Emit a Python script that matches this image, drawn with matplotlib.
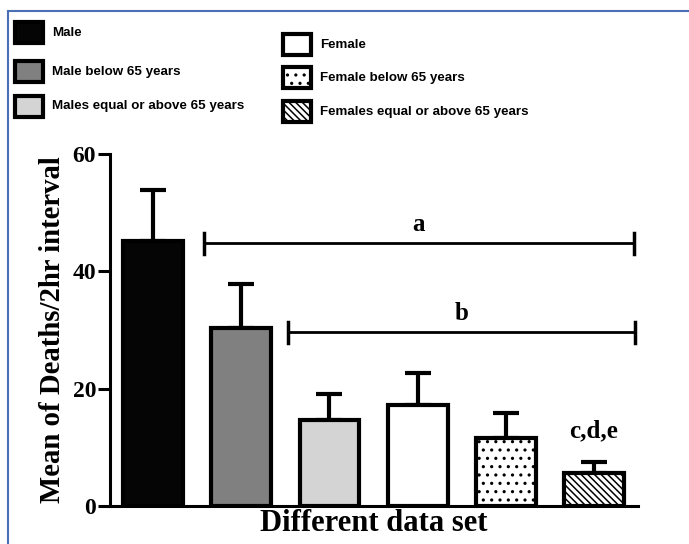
import matplotlib
matplotlib.use("Agg")
import matplotlib.pyplot as plt
from matplotlib.patches import Rectangle
from matplotlib.lines import Line2D

categories = ["Male", "Male below 65 years", "Males equal or above 65 years",
              "Female", "Female below 65 years", "Females equal or above 65 years"]
means = [45.1, 30.4, 14.7, 17.3, 11.6, 5.6]
errors = [8.7, 7.4, 4.4, 5.3, 4.3, 1.9]
colors = ["#050505", "#808080", "#d4d4d4", "#ffffff", "#ffffff", "#ffffff"]
hatches = [None, None, None, None, "..", "\\\\\\\\\\"]
yticks = [0, 20, 40, 60]

W, H = 689, 544
plt.rcParams['hatch.linewidth'] = 1.1
fig = plt.figure(figsize=(W / 100, H / 100), dpi=100)

def fx(px):
    return px / W

def fy(py):
    return 1 - py / H

ax = fig.add_axes([fx(110), fy(506), fx(638) - fx(110), fy(154) - fy(506)])
xs = list(range(len(means)))
bars = ax.bar(xs, means, width=0.68, color=colors, edgecolor="black", linewidth=3, zorder=3)
for b, h in zip(bars, hatches):
    if h:
        b.set_hatch(h)
ax.errorbar(xs, means, yerr=[[0] * len(errors), errors], fmt="none", ecolor="black",
            elinewidth=3, capsize=9.5, capthick=3, zorder=2)

ax.set_xlim(-0.49, 5.5)
ax.set_ylim(0, 60)
ax.set_yticks(yticks)
ax.set_yticklabels([str(t) for t in yticks], fontfamily="Liberation Serif", fontweight="bold", fontsize=17)
ax.set_xticks([])
for s in ["top", "right"]:
    ax.spines[s].set_visible(False)
ax.spines["left"].set_linewidth(2.2)
ax.spines["bottom"].set_linewidth(2.2)
ax.tick_params(axis="y", length=9, width=2.2, pad=1)
ax.set_ylabel("Mean of Deaths/2hr interval", fontfamily="Liberation Serif", fontweight="bold",
              fontsize=20.7, labelpad=5)
ax.set_xlabel("Different data set", fontfamily="Liberation Serif", fontweight="bold",
              fontsize=22, labelpad=2)

# significance brackets
def bracket(x0, x1, y, label):
    ax.plot([x0, x1], [y, y], color="black", lw=2, clip_on=False, zorder=4)
    for xx in (x0, x1):
        ax.plot([xx, xx], [y - 1.8, y + 1.8], color="black", lw=2.5, clip_on=False, zorder=4)
    ax.text((x0 + x1) / 2, y + 1.3, label, ha="center", va="bottom", fontfamily="Liberation Serif",
            fontweight="bold", fontsize=18)

bracket(0.58, 5.45, 44.8, "a")
bracket(1.53, 5.47, 29.6, "b")
ax.text(5, means[5] + errors[5] + 3.3, "c,d,e", ha="center", va="bottom", fontfamily="Liberation Serif",
        fontweight="bold", fontsize=18)

# legend
leg_pos = [(15, 22, 52), (15, 61, 52), (15, 96, 52), (283, 34, 320), (283, 67, 320), (283, 101, 320)]
for (px, py, tx), lab, c, h in zip(leg_pos, categories, colors, hatches):
    r = Rectangle((fx(px), fy(py + 21)), fx(28), 21 / H, transform=fig.transFigure,
                  facecolor=c, edgecolor="black", linewidth=3, hatch=h)
    fig.add_artist(r)
    fig.text(fx(tx), fy(py + 10.5), lab, ha="left", va="center", fontfamily="Liberation Sans",
             fontweight="bold", fontsize=9.6)

# blue frame
fig.add_artist(Line2D([fx(8), 1], [fy(11), fy(11)], transform=fig.transFigure, color="#4a6fb5", lw=1.5))
fig.add_artist(Line2D([fx(8), fx(8)], [fy(11), 0], transform=fig.transFigure, color="#4a6fb5", lw=1.5))

fig.savefig("out.png", dpi=100)
